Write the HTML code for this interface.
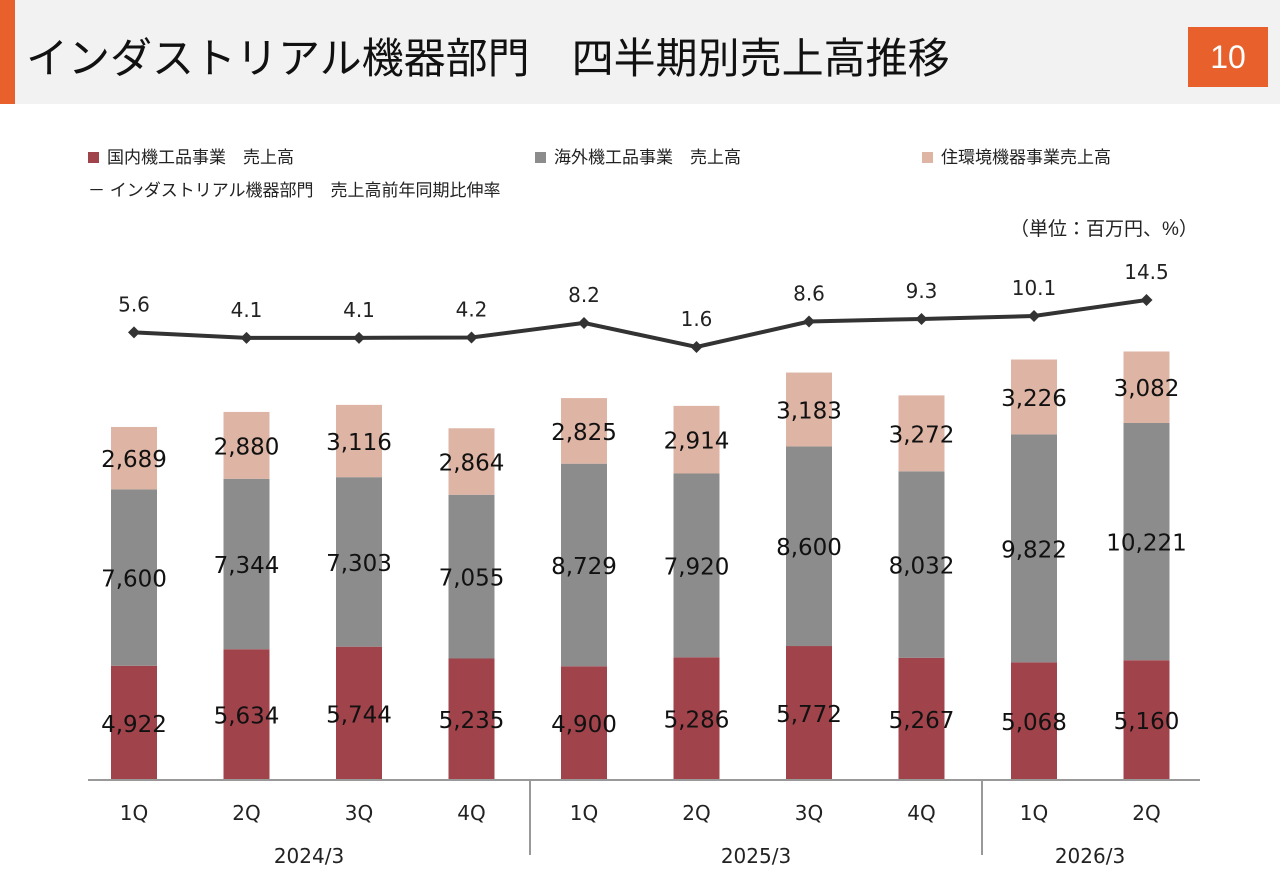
<!DOCTYPE html>
<html><head><meta charset="utf-8"><style>
body{margin:0;width:1280px;height:886px;background:#fff;font-family:"Liberation Sans","Noto Sans CJK JP",sans-serif;overflow:hidden;position:relative}
.hdr{position:absolute;left:0;top:0;width:1280px;height:104px;background:#f2f2f2}
.bar{position:absolute;left:0;top:0;width:15px;height:104px;background:#e8602c}
.title{position:absolute;left:26px;top:25px;font-size:42px;letter-spacing:0;color:#111;white-space:nowrap}
.pg{position:absolute;left:1188px;top:27px;width:80px;height:60px;background:#e8602c;color:#fff;font-size:32px;text-align:center;line-height:60px}
.lg{position:absolute;font-size:17px;color:#222;white-space:nowrap}
.sq{display:inline-block;width:11px;height:11px;margin-right:8px;vertical-align:0}
</style></head><body>
<div class="hdr"></div>
<div class="bar"></div>
<div class="title">インダストリアル機器部門　四半期別売上高推移</div>
<div class="pg">10</div>
<div class="lg" style="left:88px;top:143px"><span class="sq" style="background:#a0434b"></span>国内機工品事業　売上高</div>
<div class="lg" style="left:535px;top:143px"><span class="sq" style="background:#8c8c8c"></span>海外機工品事業　売上高</div>
<div class="lg" style="left:922px;top:143px"><span class="sq" style="background:#deb4a4"></span>住環境機器事業売上高</div>
<div class="lg" style="left:88px;top:176px">－ インダストリアル機器部門　売上高前年同期比伸率</div>
<div class="lg" style="left:1010px;top:214px;font-size:19px">（単位：百万円、%）</div>
<svg id="ch" width="1280" height="886" style="position:absolute;left:0;top:0"></svg>
<script>
const quarters=["1Q","2Q","3Q","4Q","1Q","2Q","3Q","4Q","1Q","2Q"];
const domestic=[4922,5634,5744,5235,4900,5286,5772,5267,5068,5160];
const overseas=[7600,7344,7303,7055,8729,7920,8600,8032,9822,10221];
const housing=[2689,2880,3116,2864,2825,2914,3183,3272,3226,3082];
const growth=[5.6,4.1,4.1,4.2,8.2,1.6,8.6,9.3,10.1,14.5];
const years=["2024/3","2025/3","2026/3"];
const ns="http://www.w3.org/2000/svg",svg=document.getElementById("ch");
const x=i=>134+i*112.5, base=780, k=0.02321;
const y=v=>base-v*k, ly=v=>352.8-3.64*v;
const NF="DejaVu Sans, Liberation Sans, sans-serif";
function mk(t,a,txt){const e=document.createElementNS(ns,t);for(const n in a)e.setAttribute(n,a[n]);if(txt!=null)e.textContent=txt;svg.appendChild(e);return e;}
const fmt=v=>v.toLocaleString("en-US");
const series=[[domestic,"#a0434b"],[overseas,"#8c8c8c"],[housing,"#deb4a4"]];
quarters.forEach((q,i)=>{let acc=0;
 series.forEach(([arr,c],s)=>{const v=arr[i];const top=y(acc+v),bot=y(acc);
  const r=mk("rect",{x:x(i)-23,y:top,width:46,height:bot-top,fill:c});
  
  
  const t=mk("text",{x:x(i),y:(top+bot)/2+9,"text-anchor":"middle","font-size":23,"font-weight":500,fill:"#111","font-family":NF},fmt(v));
  
  
  acc+=v;});
 const tl=mk("text",{x:x(i),y:820,"text-anchor":"middle","font-size":20,fill:"#222","font-family":NF},q);
 
 
});
const ax=mk("line",{x1:88,x2:1200,y1:base,y2:base,stroke:"#999","stroke-width":2});


[530,982].forEach(sx=>{const l=mk("line",{x1:sx,x2:sx,y1:base,y2:855,stroke:"#999","stroke-width":2});
 
 });
[309,756,1090].forEach((cx,i)=>{const t=mk("text",{x:cx,y:863,"text-anchor":"middle","font-size":20,fill:"#222","font-family":NF},years[i]);
 
 });
const pl=mk("polyline",{points:growth.map((v,i)=>x(i)+","+ly(v)).join(" "),fill:"none",stroke:"#333","stroke-width":4});


growth.forEach((v,i)=>{const px=x(i),py=ly(v);
 const d=mk("polygon",{points:`${px},${py-6} ${px+6},${py} ${px},${py+6} ${px-6},${py}`,fill:"#333"});
 
 
 const t=mk("text",{x:px,y:py-21,"text-anchor":"middle","font-size":20,fill:"#222","font-family":NF},v.toFixed(1));
 
 });
</script>
</body></html>
